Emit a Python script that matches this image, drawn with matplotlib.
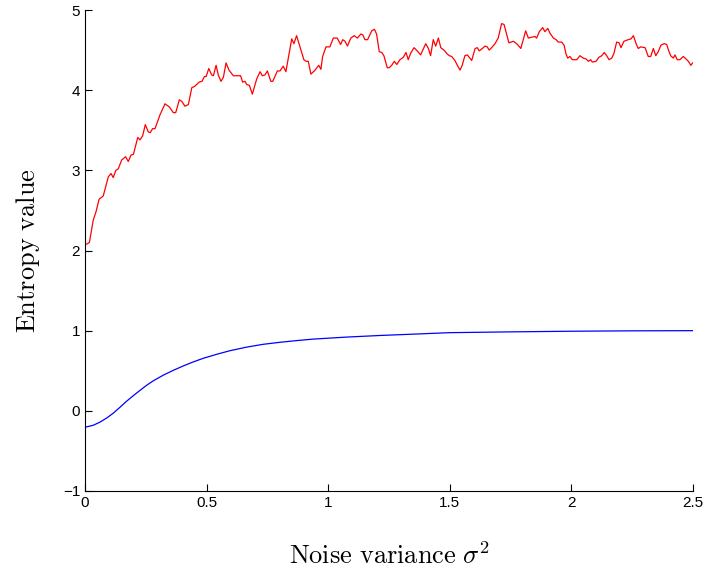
import matplotlib
matplotlib.use("Agg")
import matplotlib.pyplot as plt

plt.rcParams["font.family"] = ["Liberation Sans", "DejaVu Sans"]
plt.rcParams["mathtext.fontset"] = "cm"

# red curve (noisy estimate)
red_x = [0.007, 0.018, 0.034, 0.045, 0.058, 0.075, 0.096, 0.107, 0.116, 0.127,
         0.137, 0.151, 0.167, 0.178, 0.189, 0.199, 0.217, 0.226, 0.237, 0.248,
         0.260, 0.268, 0.278, 0.288, 0.308, 0.329, 0.347, 0.363, 0.373, 0.388,
         0.398, 0.411, 0.425, 0.439, 0.452, 0.469, 0.481, 0.491, 0.498, 0.509,
         0.521, 0.528, 0.539, 0.548, 0.559, 0.569, 0.580, 0.592, 0.610, 0.626,
         0.640, 0.648, 0.658, 0.665, 0.676, 0.688, 0.706, 0.720, 0.729, 0.740,
         0.750, 0.764, 0.772, 0.791, 0.802, 0.815, 0.826, 0.836, 0.850, 0.859,
         0.870, 0.884, 0.900, 0.909, 0.918, 0.929, 0.946, 0.961, 0.970, 0.977,
         0.991, 1.007, 1.021, 1.037, 1.051, 1.060, 1.069, 1.079, 1.093, 1.107,
         1.120, 1.134, 1.142, 1.151, 1.162, 1.179, 1.190, 1.199, 1.210, 1.220,
         1.229, 1.243, 1.251, 1.261, 1.272, 1.282, 1.295, 1.309, 1.320, 1.329,
         1.339, 1.353, 1.366, 1.380, 1.401, 1.412, 1.421, 1.432, 1.442, 1.453,
         1.463, 1.476, 1.490, 1.498, 1.508, 1.521, 1.531, 1.542, 1.551, 1.562,
         1.572, 1.590, 1.604, 1.613, 1.621, 1.634, 1.645, 1.654, 1.662, 1.675,
         1.686, 1.699, 1.713, 1.723, 1.731, 1.743, 1.761, 1.775, 1.792, 1.802,
         1.812, 1.823, 1.837, 1.850, 1.857, 1.868, 1.882, 1.891, 1.903, 1.912,
         1.926, 1.937, 1.946, 1.960, 1.970, 1.978, 1.985, 1.994, 2.004, 2.022,
         2.035, 2.049, 2.060, 2.070, 2.079, 2.086, 2.101, 2.113, 2.125, 2.135,
         2.145, 2.155, 2.166, 2.175, 2.186, 2.196, 2.204, 2.216, 2.234, 2.245,
         2.255, 2.266, 2.275, 2.285, 2.303, 2.316, 2.326, 2.337, 2.347, 2.357,
         2.368, 2.381, 2.392, 2.398, 2.408, 2.419, 2.426, 2.435, 2.446, 2.460,
         2.471, 2.481, 2.491, 2.499]
red_y = [2.08, 2.10, 2.38, 2.48, 2.64, 2.68, 2.92, 2.96, 2.91, 3.00,
         3.02, 3.13, 3.17, 3.11, 3.19, 3.20, 3.41, 3.38, 3.43, 3.57,
         3.48, 3.47, 3.52, 3.52, 3.69, 3.83, 3.79, 3.72, 3.72, 3.88,
         3.86, 3.80, 3.82, 4.03, 4.05, 4.10, 4.11, 4.17, 4.17, 4.27,
         4.19, 4.18, 4.31, 4.19, 4.11, 4.16, 4.34, 4.25, 4.18, 4.18,
         4.18, 4.10, 4.11, 4.07, 4.06, 3.95, 4.14, 4.23, 4.18, 4.19,
         4.24, 4.11, 4.11, 4.24, 4.24, 4.30, 4.23, 4.40, 4.64, 4.58,
         4.68, 4.54, 4.38, 4.36, 4.36, 4.20, 4.25, 4.31, 4.26, 4.42,
         4.54, 4.54, 4.65, 4.65, 4.57, 4.63, 4.61, 4.55, 4.65, 4.68,
         4.65, 4.70, 4.69, 4.63, 4.63, 4.74, 4.76, 4.70, 4.48, 4.47,
         4.43, 4.28, 4.28, 4.31, 4.36, 4.32, 4.38, 4.41, 4.47, 4.38,
         4.46, 4.53, 4.49, 4.44, 4.58, 4.52, 4.43, 4.63, 4.55, 4.65,
         4.53, 4.50, 4.45, 4.43, 4.42, 4.37, 4.31, 4.25, 4.31, 4.43,
         4.44, 4.37, 4.52, 4.53, 4.49, 4.52, 4.55, 4.54, 4.50, 4.54,
         4.58, 4.65, 4.83, 4.82, 4.73, 4.59, 4.61, 4.58, 4.52, 4.63,
         4.74, 4.65, 4.66, 4.67, 4.65, 4.73, 4.78, 4.73, 4.77, 4.71,
         4.65, 4.63, 4.60, 4.60, 4.56, 4.45, 4.40, 4.42, 4.38, 4.38,
         4.43, 4.40, 4.39, 4.36, 4.38, 4.35, 4.36, 4.41, 4.43, 4.47,
         4.43, 4.38, 4.40, 4.46, 4.60, 4.59, 4.53, 4.61, 4.63, 4.64,
         4.68, 4.58, 4.52, 4.54, 4.53, 4.42, 4.42, 4.52, 4.43, 4.48,
         4.56, 4.58, 4.57, 4.51, 4.43, 4.40, 4.44, 4.38, 4.38, 4.42,
         4.39, 4.36, 4.31, 4.34]

# blue curve (smooth)
blue_x = [0.0, 0.007, 0.034, 0.062, 0.089, 0.116, 0.144, 0.171, 0.199, 0.226,
          0.254, 0.281, 0.322, 0.363, 0.404, 0.445, 0.486, 0.541, 0.596, 0.665,
          0.733, 0.802, 0.870, 0.939, 1.076, 1.213, 1.295, 1.5, 1.75, 2.0,
          2.25, 2.5]
blue_y = [-0.20, -0.20, -0.18, -0.14, -0.09, -0.03, 0.045, 0.12, 0.19, 0.255,
          0.32, 0.375, 0.445, 0.505, 0.56, 0.61, 0.655, 0.705, 0.75, 0.795,
          0.83, 0.855, 0.876, 0.895, 0.92, 0.94, 0.95, 0.975, 0.985, 0.993,
          0.998, 1.0]

xticks = [0, 0.5, 1, 1.5, 2, 2.5]
xticklabels = ["0", "0.5", "1", "1.5", "2", "2.5"]
yticks = [-1, 0, 1, 2, 3, 4, 5]

fig = plt.figure(figsize=(7.07, 5.70), dpi=100)
ax = fig.add_axes([85 / 707, 1 - 491 / 570, 608 / 707, 481 / 570])

ax.plot(red_x, red_y, color="red", lw=0.9)
ax.plot(blue_x, blue_y, color="blue", lw=0.9)

ax.set_xlim(0, 2.5)
ax.set_ylim(-1, 5)
ax.set_xticks(xticks)
ax.set_xticklabels(xticklabels)
ax.set_yticks(yticks)
ax.spines["top"].set_visible(False)
ax.spines["right"].set_visible(False)
ax.tick_params(direction="in", length=5, width=0.8, labelsize=11)

ax.set_xlabel(r"$\mathrm{Noise\ variance}\ \sigma^2$", fontsize=19, labelpad=23)
ax.set_ylabel(r"$\mathrm{Entropy\ value}$", fontsize=19, labelpad=15)

fig.savefig("out.png", dpi=100)
